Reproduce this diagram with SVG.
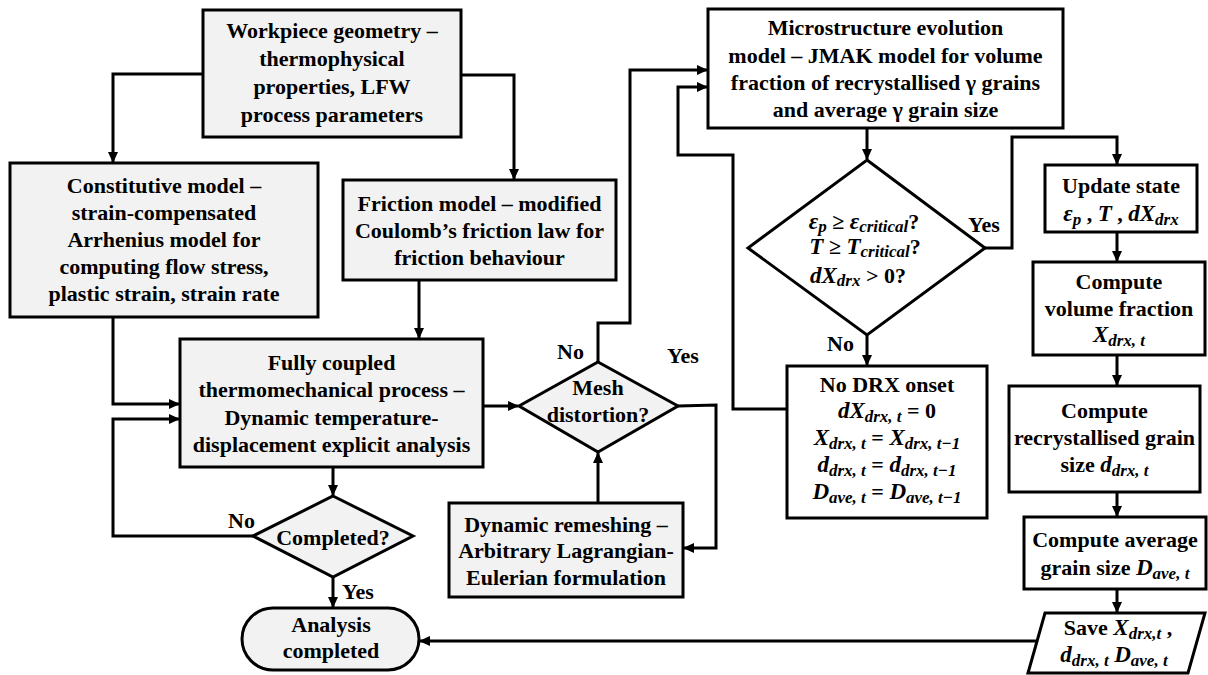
<svg xmlns="http://www.w3.org/2000/svg" width="1208" height="675" viewBox="0 0 1208 675">
<defs>
<style>
.t{font-family:'Liberation Serif','DejaVu Serif',serif;font-weight:bold;font-size:22px;fill:#000;text-anchor:middle}
.l{font-family:'Liberation Serif','DejaVu Serif',serif;font-weight:bold;font-size:22px;fill:#000}
.m{font-style:italic;font-size:23px}
.s{font-size:17px;font-style:italic}
.g{fill:#f2f2f2;stroke:#000;stroke-width:3}
.w{fill:#fff;stroke:#000;stroke-width:3}
.c{fill:none;stroke:#000;stroke-width:3}
</style>
<marker id="ah" markerUnits="userSpaceOnUse" markerWidth="11" markerHeight="10" refX="10" refY="5" orient="auto">
<path d="M0,0 L11,5 L0,10 z" fill="#000"/>
</marker>
</defs>
<rect width="1208" height="675" fill="#fff"/>

<g id="connectors">
<path class="c" d="M203,74 H113 V162" marker-end="url(#ah)"/>
<path class="c" d="M461,75 H514 V179" marker-end="url(#ah)"/>
<path class="c" d="M113,317 V404 H179" marker-end="url(#ah)"/>
<path class="c" d="M419,280 V338" marker-end="url(#ah)"/>
<path class="c" d="M333,467 V495" marker-end="url(#ah)"/>
<path class="c" d="M253,536 H113 V419 H179" marker-end="url(#ah)"/>
<path class="c" d="M333,577 V607" marker-end="url(#ah)"/>
<path class="c" d="M483,406 H518" marker-end="url(#ah)"/>
<path class="c" d="M598,362 V323 H630 V70 H707" marker-end="url(#ah)"/>
<path class="c" d="M678,406 L716,405 V548 H684" marker-end="url(#ah)"/>
<path class="c" d="M598,503 V453" marker-end="url(#ah)"/>
<path class="c" d="M867,128 V159" marker-end="url(#ah)"/>
<path class="c" d="M985,248 H1012 V137 H1117 V164" marker-end="url(#ah)"/>
<path class="c" d="M867,335 V365" marker-end="url(#ah)"/>
<path class="c" d="M787,409 H733 V155 H678 V87 H707" marker-end="url(#ah)"/>
<path class="c" d="M1117,232 V261" marker-end="url(#ah)"/>
<path class="c" d="M1117,355 V385" marker-end="url(#ah)"/>
<path class="c" d="M1117,492 V516" marker-end="url(#ah)"/>
<path class="c" d="M1117,589 V612" marker-end="url(#ah)"/>
<path class="c" d="M1037,641 H420" marker-end="url(#ah)"/>
</g>

<g id="labels">
<text class="l" x="228" y="528">No</text>
<text class="l" x="342" y="599">Yes</text>
<text class="l" x="557" y="359">No</text>
<text class="l" x="667" y="363">Yes</text>
<text class="l" x="968" y="232">Yes</text>
<text class="l" x="827" y="351">No</text>
</g>

<g id="workpiece">
<rect class="g" x="203" y="10" width="258" height="127"/>
<text class="t" x="332" y="38">Workpiece geometry –</text>
<text class="t" x="332" y="66">thermophysical</text>
<text class="t" x="332" y="94">properties, LFW</text>
<text class="t" x="332" y="122">process parameters</text>
</g>

<g id="constitutive">
<rect class="g" x="10" y="163" width="308" height="154"/>
<text class="t" x="164" y="193">Constitutive model –</text>
<text class="t" x="164" y="220">strain-compensated</text>
<text class="t" x="164" y="247">Arrhenius model for</text>
<text class="t" x="164" y="274">computing flow stress,</text>
<text class="t" x="164" y="301">plastic strain, strain rate</text>
</g>

<g id="friction">
<rect class="g" x="343" y="180" width="273" height="100"/>
<text class="t" x="479.5" y="211">Friction model – modified</text>
<text class="t" x="479.5" y="238">Coulomb’s friction law for</text>
<text class="t" x="479.5" y="265">friction behaviour</text>
</g>

<g id="fully-coupled">
<rect class="g" x="180" y="339" width="303" height="128"/>
<text class="t" x="331.5" y="370">Fully coupled</text>
<text class="t" x="331.5" y="397">thermomechanical process –</text>
<text class="t" x="331.5" y="425">Dynamic temperature-</text>
<text class="t" x="331.5" y="452">displacement explicit analysis</text>
</g>

<g id="completed">
<polygon class="g" points="333,496 413,536 333,577 253,536"/>
<text class="t" x="333" y="545">Completed?</text>
</g>

<g id="analysis-completed">
<rect class="g" x="242" y="608" width="177" height="62" rx="31" ry="31"/>
<text class="t" x="331" y="632">Analysis</text>
<text class="t" x="331" y="658">completed</text>
</g>

<g id="mesh">
<polygon class="g" points="598,362 678,406 598,452 519,406"/>
<text class="t" x="598" y="395">Mesh</text>
<text class="t" x="598" y="422">distortion?</text>
</g>

<g id="remeshing">
<rect class="g" x="449" y="503" width="234" height="94"/>
<text class="t" x="566" y="532">Dynamic remeshing –</text>
<text class="t" x="566" y="558">Arbitrary Lagrangian-</text>
<text class="t" x="566" y="585">Eulerian formulation</text>
</g>

<g id="microstructure">
<rect class="w" x="708" y="9" width="355" height="119"/>
<text class="t" x="885.5" y="35">Microstructure evolution</text>
<text class="t" x="885.5" y="63">model – JMAK model for volume</text>
<text class="t" x="885.5" y="90">fraction of recrystallised γ grains</text>
<text class="t" x="885.5" y="117">and average γ grain size</text>
</g>

<g id="drx-decision">
<polygon class="w" points="867,160 985,248 867,335 748,248"/>
<text class="t" x="864" y="229"><tspan class="m">ε</tspan><tspan class="s" dy="3">p</tspan><tspan dy="-3"> ≥ </tspan><tspan class="m">ε</tspan><tspan class="s" dy="3">critical</tspan><tspan dy="-3">?</tspan></text>
<text class="t" x="865" y="254"><tspan class="m">T</tspan><tspan> ≥ </tspan><tspan class="m">T</tspan><tspan class="s" dy="3">critical</tspan><tspan dy="-3">?</tspan></text>
<text class="t" x="858" y="283"><tspan class="m">dX</tspan><tspan class="s" dy="3">drx</tspan><tspan dy="-3"> &gt; 0?</tspan></text>
</g>

<g id="no-drx">
<rect class="w" x="787" y="366" width="200" height="152"/>
<text class="t" x="887" y="392">No DRX onset</text>
<text class="t" x="887" y="418"><tspan class="m">dX</tspan><tspan class="s" dy="4">drx, t</tspan><tspan dy="-4"> = 0</tspan></text>
<text class="t" x="887" y="445"><tspan class="m">X</tspan><tspan class="s" dy="4">drx, t</tspan><tspan dy="-4"> = </tspan><tspan class="m">X</tspan><tspan class="s" dy="4">drx, t−1</tspan></text>
<text class="t" x="887" y="472"><tspan class="m">d</tspan><tspan class="s" dy="4">drx, t</tspan><tspan dy="-4"> = </tspan><tspan class="m">d</tspan><tspan class="s" dy="4">drx, t−1</tspan></text>
<text class="t" x="887" y="499"><tspan class="m">D</tspan><tspan class="s" dy="4">ave, t</tspan><tspan dy="-4"> = </tspan><tspan class="m">D</tspan><tspan class="s" dy="4">ave, t−1</tspan></text>
</g>

<g id="update-state">
<rect class="w" x="1045" y="165" width="152" height="67"/>
<text class="t" x="1121" y="193">Update state</text>
<text class="t" x="1121" y="221"><tspan class="m">ε</tspan><tspan class="s" dy="4">p</tspan><tspan dy="-4"> , </tspan><tspan class="m">T</tspan><tspan> , </tspan><tspan class="m">dX</tspan><tspan class="s" dy="4">drx</tspan></text>
</g>

<g id="volume-fraction">
<rect class="w" x="1033" y="262" width="172" height="93"/>
<text class="t" x="1119" y="289">Compute</text>
<text class="t" x="1119" y="316">volume fraction</text>
<text class="t" x="1119" y="342"><tspan class="m">X</tspan><tspan class="s" dy="4">drx, t</tspan></text>
</g>

<g id="recrystallised-size">
<rect class="w" x="1009" y="386" width="191" height="106"/>
<text class="t" x="1104.5" y="418">Compute</text>
<text class="t" x="1104.5" y="445">recrystallised grain</text>
<text class="t" x="1104.5" y="472"><tspan>size </tspan><tspan class="m">d</tspan><tspan class="s" dy="4">drx, t</tspan></text>
</g>

<g id="average-size">
<rect class="w" x="1024" y="517" width="182" height="72"/>
<text class="t" x="1115" y="547">Compute average</text>
<text class="t" x="1115" y="575"><tspan>grain size </tspan><tspan class="m">D</tspan><tspan class="s" dy="4">ave, t</tspan></text>
</g>

<g id="save">
<polygon class="w" points="1045,613 1205,613 1188,673 1028,673"/>
<text class="t" x="1118" y="635"><tspan>Save </tspan><tspan class="m">X</tspan><tspan class="s" dy="4">drx,t</tspan><tspan dy="-4"> ,</tspan></text>
<text class="t" x="1114" y="662"><tspan class="m">d</tspan><tspan class="s" dy="4">drx, t</tspan><tspan dy="-4">  </tspan><tspan class="m">D</tspan><tspan class="s" dy="4">ave, t</tspan></text>
</g>
</svg>
